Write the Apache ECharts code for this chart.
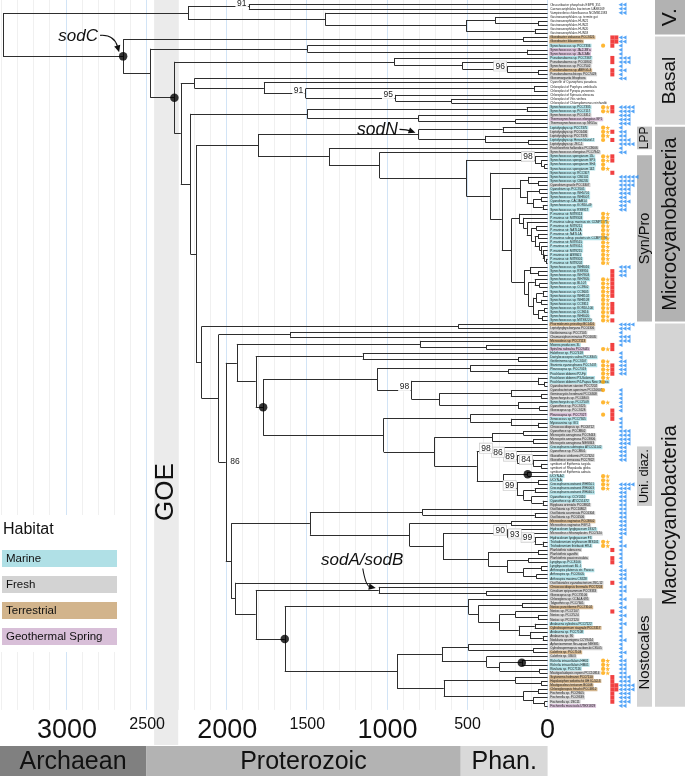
<!DOCTYPE html>
<html><head><meta charset="utf-8">
<script src="https://cdn.jsdelivr.net/npm/echarts@6/dist/echarts.min.js"></script>
<style>html,body{margin:0;padding:0;background:#fff}#c{width:685px;height:776px}</style>
</head><body><div id="c"></div>
<script>
// ---------------- DATA ----------------
const leafNames = [
 "Obscuribacter phosphatis EBPR_351","Caenarcaniphilales bacterium UASB169","Vampirovibrio chlorellavorus NCIMB11383","Gastranaerophilales sp. termite gut","Gastranaerophilales HUN21","Gastranaerophilales HUN22","Gastranaerophilales HUN20","Gastranaerophilales HUN18",
 "Gloeobacter violaceus PCC7421","Gloeobacter kilaueensis","Synechococcus sp. PCC7336","Synechococcus sp. JA-2-3B'a","Synechococcus sp. JA-3-3Ab","Pseudanabaena sp. PCC7367","Pseudanabaena sp. PCC6802","Synechococcus sp. PCC7502","Pseudanabaena sp. ABRG5-3","Pseudanabaena biceps PCC7429","Gloeomargarita lithophora","Cyanelle of Cyanophora paradoxa","Chloroplast of Porphyra umbilicalis","Chloroplast of Pyropia yezoensis","Chloroplast of Spinacia oleracea","Chloroplast of Vitis vinifera","Chloroplast of Chlamydomonas reinhardtii","Synechococcus sp. PCC7335","Synechococcus sp. PCC7117","Synechococcus sp. PCC6312","Thermosynechococcus elongatus BP1","Thermosynechococcus sp. NK55a",
 "Leptolyngbya sp. PCC7375","Leptolyngbya sp. PCC6406","Leptolyngbya sp. PCC7376","Leptolyngbya sp. Heron Island J","Leptolyngbya sp. JSC-1","Prochlorothrix hollandica PCC9006","Synechococcus elongatus PCC7942",
 "Synechococcus spongiarum 15L","Synechococcus spongiarum SP3","Synechococcus spongiarum SH4","Synechococcus spongiarum 142","Synechococcus sp. RCC307",
 "Synechococcus sp. CB0101","Synechococcus sp. CB0205","Cyanobium gracile PCC6307","Cyanobium sp. PCC7001","Synechococcus sp. WH5701","Synechococcus sp. WH8007","Cyanobium sp. CACIAM14","Synechococcus sp. KORDI-49","Synechococcus sp. RS9917",
 "P. marinus str. MIT9313","P. marinus str. MIT9303","P. marinus subsp. marinus str. CCMP1375","P. marinus str. MIT9211","P. marinus str. NATL2A","P. marinus str. NATL1A","P. marinus subsp. pastoris str. CCMP1986","P. marinus str. MIT9515","P. marinus str. MIT9312","P. marinus str. MIT9215","P. marinus str. AS9601","P. marinus str. MIT9301","P. marinus str. MIT9202",
 "Synechococcus sp. WH8016","Synechococcus sp. RS9916","Synechococcus sp. WH7803","Synechococcus sp. WH7805","Synechococcus sp. BL107","Synechococcus sp. CC9902","Synechococcus sp. CC9605","Synechococcus sp. WH8102","Synechococcus sp. WH8109","Synechococcus sp. CC9311","Synechococcus sp. KORDI-100","Synechococcus sp. CC9616","Synechococcus sp. WH8020","Synechococcus sp. MITS9220",
 "Phormidesmis priestleyi BC1401","Leptolyngbya boryana PCC6306","Geitlerinema sp. PCC7105","Chamaesiphon minutus PCC6605","Microcoleus sp. PCC7113","Moorea producens 3L","Spirulina subsalsa PCC9445","Halothece sp. PCC7418","Dactylococcopsis salina PCC8305","Geitlerinema sp. PCC7407",
 "Stanieria cyanosphaera PCC7437","Pleurocapsa sp. PCC7319","Prochloron didemni P2-Fiji","Prochloron didemni P3-Solomon","Prochloron didemni P4-Papua New Guinea","Cyanobacterium stanieri PCC7202","Cyanobacterium aponinum PCC10605","Geminocystis herdmanii PCC6308","Synechocystis sp. PCC6803","Synechocystis sp. PCC7509",
 "Cyanothece sp. PCC7425","Gloeocapsa sp. PCC7428","Pleurocapsa sp. PCC7327","Xenococcus sp. PCC7305","Myxosarcina sp. GI1","Chroococcidiopsis sp. PCC6712","Cyanothece sp. PCC8802","Microcystis aeruginosa PCC9443","Microcystis aeruginosa PCC9806","Microcystis aeruginosa NIES843",
 "Crocosphaera subtropica ATCC51142","Cyanothece sp. PCC8801","Gloeothece citriformis PCC7424","Gloeothece verrucosa PCC7822","symbiont of Epithemia turgida","symbiont of Rhopalodia gibba","symbiont of Epithemia adnata","UCYN-A2","UCYN-A","Crocosphaera watsonii WH8501",
 "Crocosphaera watsonii WH0003","Crocosphaera watsonii WH0401","Cyanothece sp. CCY0110","Cyanothece sp. ATCC51472","Rippkaea orientalis PCC8802","Oscillatoria sp. PCC10802","Oscillatoria acuminata PCC6304","Oscillatoria sp. PCC6506","Microcoleus vaginatus PCC9802","Microcoleus vaginatus FGP-2",
 "Hydrocoleum lyngbyaceum 19327","Microcoleus chthonoplastes PCC7420","Hydrocoleum lyngbyaceum F3","Trichodesmium erythraeum IMS101","Trichodesmium thiebautii H9-4","Planktothrix rubescens","Planktothrix agardhii","Planktothrix paucivesiculata","Lyngbya sp. PCC8106","Lyngbya aestuarii BL J",
 "Arthrospira platensis str. Paraca","Arthrospira sp. PCC8005","Arthrospira maxima CS328","Oscillatoriales cyanobacterium JSC-12","Chroococcidiopsis thermalis PCC7203","Crinalium epipsammum PCC9333","Gloeocapsa sp. PCC73106","Chlorogloea sp. CCALA 695","Tolypothrix sp. PCC7601","Nostoc punctiforme PCC73102",
 "Nostoc sp. PCC7107","Nostoc sp. PCC7524","Nostoc sp. PCC7120","Anabaena cylindrica PCC7122","Cylindrospermum stagnale PCC7417","Anabaena sp. PCC7108","Anabaena sp. 90","Nodularia spumigena CCY9414","Aphanizomenon flos-aquae NIES81","Cylindrospermopsis raciborskii CS505",
 "Calothrix sp. PCC7103","Calothrix sp. 336/3","Richelia intracellularis HH01","Richelia intracellularis HM01","Rivularia sp. PCC7116","Mastigocladopsis repens PCC10914","Scytonema hofmanni PCC7110","Hapalosiphon welwitschii UH IC-52-3","Mastigocoleus testarum BC008","Chlorogloeopsis fritschii PCC6912",
 "Fischerella sp. PCC9605","Fischerella sp. PCC9339","Fischerella sp. JSC11","Fischerella muscicola UTEX1829"
];

// habitat per leaf: M marine, F fresh, T terrestrial, G geothermal spring, - none
const leafHabitat = [
 "--------",
 "TTMGG"+"MFFTF"+"F"+"------"+"MMFGF",
 "MFFMFFF"+"MMMMMMM"+"F"+"MMMMMMMMMM"+"MMMMMMMMMM"+"MMMMMMMMMM"+"MMM",
 "TFFFTMGMMM"+"MMMMMFFFFM"+"FFGMMFFFFF"+"MFFF---MMM"+"MMMMFFFFTF"+"MFMMMFFFMM"+"MMMFTFFFFT"+"FFFMTMFFFF"+"TFMMMFTTTT"+"FFFG"
].join("");

const habitatCodes = ["M","F","T","G"];
const habitatNames = ["Marine","Fresh","Terrestrial","Geothermal Spring"];

// per-leaf gene marks: orange (0 none, 1 circle, 2 circle+star), red squares count, blue triangles count
const orangeMarks = [
 "00000000",
 "0010000000000000022000",
 "2221000"+"22120"+"000000000"+"2222222222222"+"00022222222222",
 "0000002002"+"2222101002"+"0010000000"+"0000000222"+"2000000000"+"0002200000"+"0000000000"+"0000000000"+"0022220000"+"0000"
].join("");
const redMarks = [
 "00000000",
 "22100"+"11011"+"0"+"000000"+"11000",
 "0101000"+"11001"+"000000000"+"0000000000000"+"01111111011101",
 "0000011000"+"1110000000"+"0111000000"+"0000000000"+"0000000000"+"0000010110"+"0001000000"+"1000000000"+"0000001122"+"1110"
].join("");
const blueMarks = [
 "22200000",
 "22111"+"33121"+"2"+"000000"+"44333",
 "1223412"+"00000"+"544332322"+"0000000000000"+"32200000000000",
 "4313310112"+"2220001111"+"1101113333"+"2222000004"+"3222222222"+"2211211111"+"2221221212"+"1212111211"+"2122223344"+"3332"
].join("");

// tree topology: x = leaf (in order of leafNames); ")age" = node age in Ma, "#n" support, "*" marked node, "@tag" annotation
const cladeV = "((x,x)1865#91,(x,((x,(x,x)60)327,(x,x)80)508)1386)2245";
const cladeGloeobacter = "(x,x)153";
const cladeBasalA = "(x,(x,x)128)1500";
const cladePseudanabaena = "(x,(x,(x,(x,x)60)251#96)531)955";
const cladePlastids = "(x,(x,((x,x)85,(x,(x,x)600)950#95)1510#91)1771)2205";
const cladeBasalB = "((x,x)130,(x,(x,x)200)806)1500";
const cladeLPP = "((x,x)280,(x,(x,x)120)390)806@sodN";
const cladeSpongiarum = "(x,(x,(x,x)20)40)78#98";
const cladeSynA = "((x,(x,x)60)120,((x,x)50,((x,x)40,(x,x)30)90)130)172";
const cladePro = "(x,(x,(x,((x,x)70,((x,x)60,(x,(x,(x,(x,(x,x)10)20)30)40)50)80)100)130)150)178";
const cladeSynB = "((x,(x,x)60)110,((x,(x,x)50)80,(((x,x)30,(x,x)40)70,((x,x)20,(x,x)35)60)90)120)145";
const cladeChroo1 = "(x,(x,x)184)1154";
const cladeChroo2 = "((x,(x,x)246)483,((x,(x,x)20)60,((x,(x,x)40)229,(x,(x,x)50)184)674)849#98)1064";
const cladePleuro = "(x,(x,(x,x)60)229)483";
const cladeMicrocystis = "((x,x)150,(x,x)90)345";
const cladeUniDiazA = "(x,(x,(x,(x,(x,x)40)90#84)190#89)265#86)340#98";
const cladeUniDiazB = "((x,x)124*,((x,x)60,((x,x)80,(x,(x,x)30)100)150)192#99)276";
const cladeOscillatoria = "((x,(x,x)80)780,((x,x)228,((x,(x,(x,(x,x)30)80#99)160#93)251#90,((x,x)60,((x,x)120,((x,x)40,(x,x)70)150)250)369)653)861)1484";
const cladeNostocA = "(x,((x,x)160,((x,(x,x)60)200,((x,x)80,(x,(x,x)30)110)180)300)431)494";
const cladeNostocB = "(((x,(x,x)90)494,(x,((x,x)161*,(x,x)50)300)380)660,((x,(x,x)40)200,((x,x)60,(x,(x,x)20)90)150)648)940";

const treeNewick =
 "(" + cladeV + ",(" + cladeGloeobacter + ",(" + cladeBasalA + ",(" + cladePseudanabaena + ",(" + cladePlastids +
 ",(" + cladeBasalB + ",(" +
   "(" + cladeLPP + ",(x,(x,(" + cladeSpongiarum + ",(x,(" + cladeSynA + ",(" + cladePro + "," + cladeSynB + ")224)286)358)507)1048)1365)1808" +
   ",((x,x)557,((x,x)1608,(((x,(x,x)383)795,(" + cladeChroo1 + ",(" + cladeChroo2 + ",(" + cladePleuro + ",(" + cladeMicrocystis + ",(" + cladeUniDiazA + "," + cladeUniDiazB + ")442)705)1023)1776*)1822)1940" +
   ",(" + cladeOscillatoria + ",(x,((x,(x,x)383)1054@sodAB,(" + cladeNostocA + "," + cladeNostocB + ")1641*)1822)1951)1975)2009#86)2054)2160" +
 ")2195)2230)2290)2330*)2480)2650*@sodC)3400";

const axisTicks = [3000, 2500, 2000, 1500, 1000, 500, 0];
const eras = [["Archaean", 3410, 2500], ["Proterozoic", 2500, 541], ["Phan.", 541, 0]];
const goeInterval = [2450, 2300];
const cladeBars = [
 ["V.", 0, 7, "outer"], ["Basal", 8, 29, "outer"], ["Microcyanobacteria", 30, 77, "outer"], ["Macrocyanobacteria", 78, 171, "outer"],
 ["LPP", 30, 35, "inner"], ["Syn/Pro", 37, 77, "inner"], ["Uni. diaz.", 108, 122, "inner"], ["Nostocales", 145, 171, "inner"]
];
const annotations = [["sodC"], ["sodN"], ["sodAB", "sodA/sodB"]];

// ---------------- STYLE ----------------
const FONT = '"Liberation Sans", Arial, Helvetica, sans-serif';
const habitatColors = {M: "#b0e0e6", F: "#d3d3d3", T: "#d2b48c", G: "#d8bfd8"};
const eraColors = ["#808080", "#b3b3b3", "#d9d9d9"];
const barColors = {"V.": "#b2b2b2", "Basal": "#d4d4d4", "Microcyanobacteria": "#b2b2b2", "Macrocyanobacteria": "#d4d4d4",
  "LPP": "#c2c2c2", "Syn/Pro": "#b6b6b6", "Uni. diaz.": "#cdcdcd", "Nostocales": "#d4d4d4"};
const barFont = {"V.": 21, "Basal": 19, "Microcyanobacteria": 20, "Macrocyanobacteria": 20, "LPP": 12, "Syn/Pro": 14.5, "Uni. diaz.": 13, "Nostocales": 15};

// ---------------- TREE PARSE / LAYOUT ----------------
function parseNewick(s) {
  let pos = 0, leafCounter = 0;
  function node() {
    const n = {children: []};
    if (s[pos] === "(") {
      pos++;
      n.children.push(node());
      while (s[pos] === ",") { pos++; n.children.push(node()); }
      pos++;
      let tok = "";
      while (pos < s.length && s[pos] !== "," && s[pos] !== ")") tok += s[pos++];
      const m = tok.match(/^([\d.]+)(?:#(\d+))?(\*)?(?:@(\w+))?$/);
      n.age = +m[1]; n.support = m[2] || null; n.dot = !!m[3]; n.tag = m[4] || null;
    } else {
      pos++;
      n.leaf = leafCounter++;
      n.age = 0;
    }
    return n;
  }
  return node();
}
const tree = parseNewick(treeNewick);
const nodes = [];
(function layout(n) {
  if (!n.children.length) n.y = n.leaf;
  else { n.children.forEach(layout); n.y = (n.children[0].y + n.children[n.children.length - 1].y) / 2; }
  nodes.push(n);
})(tree);

const segments = [];
nodes.forEach(n => {
  if (!n.children.length) return;
  const a = n.children[0], b = n.children[n.children.length - 1];
  segments.push({coords: [[n.age, a.y], [n.age, b.y]]});
  n.children.forEach(c => segments.push({coords: [[n.age, c.y], [c.age, c.y]]}));
});
const dotNodes = nodes.filter(n => n.dot);
const supportNodes = nodes.filter(n => n.support);

// markers
const COL = {circle: 0.5, star: 1.6, square: 2.7, squareStep: 0.95, tri: 4.65, triStep: 0.95};
const circleData = [], starData = [], squareData = [], triData = [];
for (let i = 0; i < leafNames.length; i++) {
  const o = +orangeMarks[i] || 0, r = +redMarks[i] || 0, t = +blueMarks[i] || 0;
  if (o >= 1) circleData.push([COL.circle, i]);
  if (o === 2) starData.push([COL.star, i]);
  for (let k = 0; k < r; k++) squareData.push([COL.square + k * COL.squareStep, i]);
  for (let k = 0; k < t; k++) triData.push([COL.tri + k * COL.triStep, i]);
}

// ---------------- CHART ----------------
const Y_MIN = -1.14, Y_MAX = 172;
const TREE_LEFT = 1.56, TREE_W = 546.04, TREE_H = 709.9;
const chart = echarts.init(document.getElementById("c"), null, {renderer: "canvas"});

const yAx = (gi) => ({gridIndex: gi, type: "value", min: Y_MIN, max: Y_MAX, inverse: true, show: false});
const timeAx = (gi, extra) => Object.assign({gridIndex: gi, type: "value", min: 0, max: 3400, inverse: true, interval: 100,
  axisLine: {show: false}, axisTick: {show: false}, splitLine: {show: false}, axisLabel: {show: false}}, extra || {});

const option = {
  animation: false,
  backgroundColor: "#fff",
  grid: [
    {left: TREE_LEFT, top: 0, width: TREE_W, height: TREE_H},
    {left: TREE_LEFT, top: 0, width: TREE_W, height: TREE_H},
    {left: 601, top: 0, width: 42, height: TREE_H},
    {left: 637, top: 0, width: 48, height: TREE_H},
    {left: TREE_LEFT, top: 746, width: TREE_W, height: 30}
  ],
  xAxis: [
    timeAx(0, {z: 4, axisLabel: {show: true, margin: 7, verticalAlign: "top", color: "#111", fontFamily: FONT,
      formatter: v => axisTicks.indexOf(v) < 0 ? "" : (v % 1000 === 0 ? "{b|" + v + "}" : "{s|" + v + "}"),
      rich: {b: {fontSize: 27, lineHeight: 27, fontFamily: FONT, color: "#111"}, s: {fontSize: 16, lineHeight: 16, fontFamily: FONT, color: "#111"}}}}),
    timeAx(1, {z: 0, splitLine: {show: true, lineStyle: {width: 1, color: ["#d2e4f6", "#f0f0f0", "#f0f0f0", "#f0f0f0", "#f0f0f0"]}}}),
    {gridIndex: 2, type: "value", min: 0, max: 10, show: false},
    {gridIndex: 3, type: "value", min: 0, max: 16, show: false},
    timeAx(4, {show: false})
  ],
  yAxis: [yAx(0), yAx(1), yAx(2), yAx(3), {gridIndex: 4, type: "value", min: 0, max: 1, show: false}],
  series: [
    {type: "custom", xAxisIndex: 1, yAxisIndex: 1, z: 1, silent: true, clip: false, data: [goeInterval],
      renderItem(params, api) {
        const cs = params.coordSys;
        const x0 = api.coord([goeInterval[0], 0])[0], x1 = api.coord([goeInterval[1], 0])[0];
        return {type: "group", children: [
          {type: "rect", shape: {x: x0, y: cs.y, width: x1 - x0, height: cs.height + 35}, style: {fill: "#ebebeb"}},
          {type: "text", x: (x0 + x1) / 2, y: 492, rotation: Math.PI / 2,
            style: {text: "GOE", fontSize: 26, fontFamily: FONT, fill: "#111", align: "center", verticalAlign: "middle"}}
        ]};
      }},
    {type: "lines", coordinateSystem: "cartesian2d", xAxisIndex: 0, yAxisIndex: 0, z: 3, silent: true, clip: false,
      lineStyle: {color: "#2e2e2e", width: 1, opacity: 1}, data: segments},
    {type: "scatter", xAxisIndex: 0, yAxisIndex: 0, z: 6, silent: true, clip: false, symbolSize: 8.5,
      itemStyle: {color: "#000"}, data: dotNodes.map(n => [n.age, n.y])},
    {type: "custom", xAxisIndex: 0, yAxisIndex: 0, z: 7, silent: true, clip: false,
      data: supportNodes.map(n => [n.age, n.y]),
      renderItem(params, api) {
        const n = supportNodes[params.dataIndex];
        const p = api.coord([n.age, n.y]);
        const span = n.children[n.children.length - 1].y - n.children[0].y;
        const big = span > 12;
        const boxed = n.age < 350;
        return {type: "text", x: big ? p[0] + 3 : p[0] - 1, y: big ? p[1] : p[1] + 1.5,
          style: {text: n.support, fontSize: 8.5, fontFamily: FONT, fill: "#222",
            align: big ? "left" : "right", verticalAlign: big ? "middle" : "bottom",
            backgroundColor: "rgba(255,255,255,0.92)", borderColor: boxed ? "#c4c4c4" : null, borderWidth: boxed ? 0.6 : 0, padding: [0.5, 1.5, 0, 1.5]}};
      }},
    {type: "custom", xAxisIndex: 0, yAxisIndex: 0, z: 5, silent: true, clip: false,
      data: leafNames.map((nm, i) => [0, i]),
      renderItem(params, api) {
        const i = params.dataIndex;
        const p = api.coord([0, i]);
        const hc = habitatColors[leafHabitat[i]];
        return {type: "text", x: p[0] + 1.6, y: p[1],
          style: {text: leafNames[i], fontSize: 3.05, fontFamily: FONT, fill: "#222", align: "left", verticalAlign: "middle",
            backgroundColor: hc || null, padding: [0.45, 1, 0.3, 1]}};
      }},
    {type: "scatter", xAxisIndex: 2, yAxisIndex: 2, z: 5, silent: true, clip: false, symbol: "circle", symbolSize: 4.2,
      itemStyle: {color: "#ffa500"}, data: circleData},
    {type: "scatter", xAxisIndex: 2, yAxisIndex: 2, z: 5, silent: true, clip: false,
      symbol: "path://M50,0 L61,35 L98,35 L68,57 L79,91 L50,70 L21,91 L32,57 L2,35 L39,35 Z", symbolSize: 5,
      itemStyle: {color: "#ffa500"}, data: starData},
    {type: "scatter", xAxisIndex: 2, yAxisIndex: 2, z: 5, silent: true, clip: false, symbol: "rect", symbolSize: [4, 4.1],
      itemStyle: {color: "#ee1111"}, data: squareData},
    {type: "scatter", xAxisIndex: 2, yAxisIndex: 2, z: 5, silent: true, clip: false, symbol: "triangle", symbolRotate: 90,
      symbolSize: [4.2, 4], itemStyle: {color: "#2b8ff5"}, data: triData},
    {type: "custom", xAxisIndex: 3, yAxisIndex: 3, z: 2, silent: true, clip: false, data: cladeBars.map((b, i) => [i, b[1], b[2]]),
      renderItem(params, api) {
        const b = cladeBars[params.dataIndex];
        const xr = b[3] === "inner" ? [0, 5] : [6, 16];
        const p0 = api.coord([xr[0], b[1] === 0 ? Y_MIN : b[1] - 0.5]), p1 = api.coord([xr[1], b[2] + 0.5]);
        const y0 = b[1] === 0 ? p0[1] : p0[1] + 1, h = p1[1] - y0 - 1;
        return {type: "group", children: [
          {type: "rect", shape: {x: p0[0], y: y0, width: p1[0] - p0[0], height: h}, style: {fill: barColors[b[0]]}},
          {type: "text", x: (p0[0] + p1[0]) / 2, y: y0 + h / 2, rotation: Math.PI / 2,
            style: {text: b[0], fontSize: barFont[b[0]], fontFamily: FONT, fill: "#111", align: "center", verticalAlign: "middle"}}
        ]};
      }},
    {type: "custom", xAxisIndex: 4, yAxisIndex: 4, z: 2, silent: true, clip: false, data: eras.map(e => [e[1], e[2]]),
      renderItem(params, api) {
        const e = eras[params.dataIndex];
        const p0 = api.coord([e[1], 1]), p1 = api.coord([e[2], 0]);
        return {type: "group", children: [
          {type: "rect", shape: {x: p0[0], y: p0[1], width: p1[0] - p0[0], height: p1[1] - p0[1]}, style: {fill: eraColors[params.dataIndex]}},
          {type: "text", x: (p0[0] + p1[0]) / 2, y: (p0[1] + p1[1]) / 2 + 1,
            style: {text: e[0], fontSize: 25, fontFamily: FONT, fill: "#111", align: "center", verticalAlign: "middle"}}
        ]};
      }}
  ]
};
chart.setOption(option);

// ---------------- LEGEND + ANNOTATIONS ----------------
const graphics = [];
graphics.push({type: "rect", z: 10, shape: {x: 0, y: 515, width: 129, height: 137}, style: {fill: "#fff"}});
graphics.push({type: "text", z: 11, x: 3, y: 530, style: {text: "Habitat", fontSize: 16, fontFamily: FONT, fill: "#111", verticalAlign: "middle"}});
habitatNames.forEach((h, i) => {
  graphics.push({type: "rect", z: 11, shape: {x: 2, y: 550 + 26 * i, width: 115, height: 17}, style: {fill: habitatColors[habitatCodes[i]]}});
  graphics.push({type: "text", z: 12, x: 6, y: 559 + 26 * i, style: {text: h, fontSize: 11.5, fontFamily: FONT, fill: "#111", verticalAlign: "middle"}});
});

function arrow(x1, y1, cx, cy, x2, y2) {
  const dx = x2 - cx, dy = y2 - cy, L = Math.hypot(dx, dy), ux = dx / L, uy = dy / L;
  const hl = 7, hw = 3.1, bx = x2 - ux * hl, by = y2 - uy * hl;
  return [
    {type: "bezierCurve", z: 20, shape: {x1: x1, y1: y1, x2: bx + ux * 1, y2: by + uy * 1, cpx1: cx, cpy1: cy}, style: {stroke: "#111", lineWidth: 1.1, fill: null}},
    {type: "polygon", z: 20, shape: {points: [[x2, y2], [bx - uy * hw, by + ux * hw], [bx + uy * hw, by - ux * hw]]}, style: {fill: "#111"}}
  ];
}
const annotLayout = {
  sodC: {t: [-45, -20], fs: 17, s: [-23, -21], c: [-9, -22], e: [-4, -4]},
  sodN: {t: [-41, -4.5], fs: 17.5, s: [-19, -5], c: [-11, -4.5], e: [-3, -1.5]},
  sodAB: {t: [-16.6, -30], fs: 17, s: [-16, -21.5], c: [-13, -4], e: [-3, -2]}
};
annotations.forEach(a => {
  const n = nodes.find(m => m.tag === a[0]);
  if (!n) return;
  const p = chart.convertToPixel({gridIndex: 0}, [n.age, n.y]);
  const L = annotLayout[a[0]];
  graphics.push({type: "text", z: 20, x: p[0] + L.t[0], y: p[1] + L.t[1],
    style: {text: a[1] || a[0], fontSize: L.fs, fontStyle: "italic", fontFamily: FONT, fill: "#111", align: "center", verticalAlign: "middle"}});
  arrow(p[0] + L.s[0], p[1] + L.s[1], p[0] + L.c[0], p[1] + L.c[1], p[0] + L.e[0], p[1] + L.e[1]).forEach(g => graphics.push(g));
});
chart.setOption({graphic: graphics});
</script></body></html>
